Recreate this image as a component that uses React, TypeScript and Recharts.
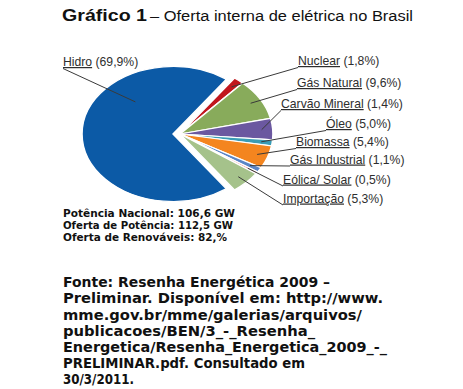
import React from 'react';
import { PieChart, Pie, Cell, Sector } from 'recharts';

// ---- data ----
const sliceNames = ['Hidro', 'Nuclear', 'Gás Natural', 'Óleo', 'Carvão Mineral', 'Biomassa', 'Gás Industrial', 'Eólica/ Solar', 'Importação'];
const sliceValues = [69.9, 1.8, 9.6, 5.0, 1.4, 5.4, 1.1, 0.5, 5.3];
const sliceColors = ['#0c5aa6', '#c1161d', '#88ab5b', '#6b58a0', '#3a9cb5', '#f4851f', '#5b85c6', '#e98585', '#a5c28b'];
// labels as printed in the right-hand column (top to bottom)
const labelNames = ['Hidro', 'Nuclear', 'Gás Natural', 'Carvão Mineral', 'Óleo', 'Biomassa', 'Gás Industrial', 'Eólica/ Solar', 'Importação'];
const summaryLines = ['Potência Nacional: 106,6 GW', 'Oferta de Potência: 112,5 GW', 'Oferta de Renováveis: 82,%'];
const sourceLines = [
  'Fonte: Resenha Energética 2009 –',
  'Preliminar. Disponível em: http://www.',
  'mme.gov.br/mme/galerias/arquivos/',
  'publicacoes/BEN/3_-_Resenha_',
  'Energetica/Resenha_Energetica_2009_-_',
  'PRELIMINAR.pdf. Consultado em',
  '30/3/2011.',
];

const pieData = sliceNames.map((name, i) => ({ name, value: sliceValues[i] }));

// ---- layout ----
const W = 463;
const H = 389;
const SQUASH = 0.742;
const EXPLODE = 7;
// label slot positions: [text x, baseline y]
const labelSlots: [number, number][] = [
  [63, 66],
  [298, 65],
  [297, 87],
  [281, 108],
  [326, 128],
  [296, 146],
  [290, 163.5],
  [283, 183.5],
  [283, 202.5],
];
const sourceWidths = [267, 320, 299, 252, 324, 242, 71];
const summaryWidths = [172, 170, 164];

const fmt = (v: number) => v.toFixed(1).replace('.', ',');
const valueOf = (name: string) => sliceValues[sliceNames.indexOf(name)];

const renderSlice = (props: any) => {
  const { cx, cy, index } = props;
  const main = index === 0;
  const ox = main ? 0 : EXPLODE;
  const r = main ? props.outerRadius : props.outerRadius + 2;
  return (
    <g transform={`translate(${cx + ox} ${cy}) scale(1 ${SQUASH}) translate(${-cx} ${-cy})`}>
      <Sector {...props} outerRadius={r} stroke="#ffffff" strokeWidth={1.6} />
    </g>
  );
};

const renderLabel = (props: any) => {
  const { cx, cy, midAngle, outerRadius, index } = props;
  const main = index === 0;
  const ox = main ? 0 : EXPLODE;
  const angle = main ? 131 : midAngle;
  const rf = main ? 0.63 : 0.9;
  const rad = (angle * Math.PI) / 180;
  const sx = cx + ox + outerRadius * rf * Math.cos(rad);
  const sy = cy - outerRadius * rf * Math.sin(rad) * SQUASH;
  const [tx, ty] = labelSlots[index];
  const name = labelNames[index];
  return (
    <g key={`lab-${index}`}>
      <line x1={sx} y1={sy} x2={tx} y2={ty + 2.5} stroke="#3a3a3a" strokeWidth={1} />
      <text x={tx} y={ty} fontFamily="'Liberation Sans', Arial, sans-serif" fontSize={12.2} fill="#2e2e2e">
        <tspan style={{ textDecoration: 'underline' }}>{name}</tspan>
        <tspan>{` (${fmt(valueOf(name))}%)`}</tspan>
      </text>
    </g>
  );
};

export default function App() {
  return (
    <div style={{ position: 'absolute', left: 0, top: 0, width: W, height: H, background: '#ffffff' }}>
      <PieChart width={W} height={H} margin={{ top: 0, right: 0, bottom: 0, left: 0 }}>
        <Pie
          data={pieData}
          dataKey="value"
          nameKey="name"
          cx={173}
          cy={134}
          outerRadius={91}
          startAngle={-54.2}
          endAngle={-414.2}
          isAnimationActive={false}
          shape={renderSlice}
          label={renderLabel}
          labelLine={false}
          stroke="#ffffff"
        >
          {pieData.map((d, i) => (
            <Cell key={d.name} fill={sliceColors[i]} />
          ))}
        </Pie>
      </PieChart>
      <svg width={W} height={H} style={{ position: 'absolute', left: 0, top: 0, pointerEvents: 'none' }}>
        <text x={62} y={20.7} fontFamily="'Liberation Sans', Arial, sans-serif" fontSize={16.5} fontWeight={700} fill="#111" textLength={85} lengthAdjust="spacingAndGlyphs">
          Gráfico 1
        </text>
        <text x={150} y={20.7} fontFamily="'Liberation Sans', Arial, sans-serif" fontSize={15.5} fill="#111" textLength={263} lengthAdjust="spacingAndGlyphs">
          – Oferta interna de elétrica no Brasil
        </text>
        {summaryLines.map((s, i) => (
          <text key={s} x={63} y={216.7 + i * 12} fontFamily="'DejaVu Sans', Arial, sans-serif" fontSize={11} fontWeight={700} fill="#111" textLength={summaryWidths[i]} lengthAdjust="spacingAndGlyphs">
            {s}
          </text>
        ))}
        {sourceLines.map((s, i) => (
          <text key={s} x={63} y={287.3 + i * 16.1} fontFamily="'DejaVu Sans', Arial, sans-serif" fontSize={13.5} fontWeight={700} fill="#111" textLength={sourceWidths[i]} lengthAdjust="spacingAndGlyphs">
            {s}
          </text>
        ))}
      </svg>
    </div>
  );
}
